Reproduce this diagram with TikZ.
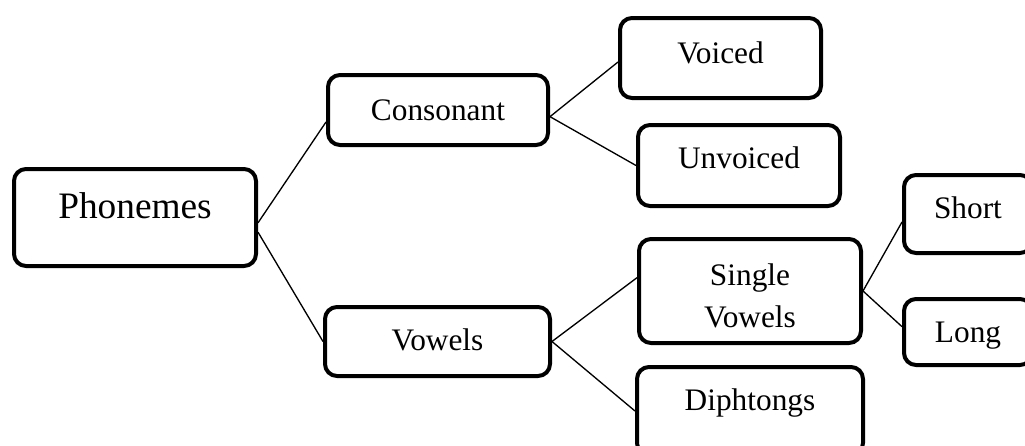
\documentclass[tikz,border=0pt]{standalone}
\usepackage{fontspec}
\setmainfont{Liberation Serif}

\begin{document}
\begin{tikzpicture}[x=0.75pt, y=-0.75pt,
  box/.style={draw, line width=3pt, rounded corners=9pt, inner sep=0pt, anchor=north west,
    align=center, font=\fontsize{23.5}{31.5}\selectfont},
  link/.style={line width=1pt}]
\def\u{0.75pt}
\useasboundingbox (0,0) rectangle (1025,446);

\node[box, minimum width=242*\u, text height=49*\u, text depth=48*\u, font=\fontsize{28}{34}\selectfont] (ph) at (12,167) {Phonemes};

\node[box, minimum width=220*\u, text height=45*\u, text depth=25*\u] (con) at (326,73) {Consonant};
\node[box, minimum width=225*\u, text height=43*\u, text depth=26*\u] (vow) at (323,305) {Vowels};

\node[box, minimum width=201*\u, text height=45*\u, text depth=35*\u] (voi) at (618,16) {Voiced};
\node[box, minimum width=202*\u, text height=43*\u, text depth=38*\u] (unv) at (636,123) {Unvoiced};
\node[box, minimum width=222*\u, text height=88*\u, text depth=16*\u] (sv) at (637,237) {Single\\Vowels};
\node[box, minimum width=226*\u, text height=43*\u, text depth=45*\u] (dip) at (635,365) {Diphtongs};

\node[box, minimum width=128*\u, text height=43*\u, text depth=35*\u] (sh) at (902,173) {Short};
\node[box, minimum width=128*\u, text height=43*\u, text depth=23*\u] (lon) at (902,297) {Long};

\draw[link] ([yshift=-4pt]ph.east) -- ([yshift=-9pt]con.west);
\draw[link] ([yshift=-11pt]ph.east) -- (vow.west);

\draw[link] ([yshift=-5pt]con.east) -- ([yshift=-3pt]voi.west);
\draw[link] ([yshift=-5pt]con.east) -- (unv.west);

\draw[link] (vow.east) -- ([yshift=10pt]sv.west);
\draw[link] (vow.east) -- (dip.west);

\draw[link] (sv.east) -- ([yshift=-6pt]sh.west);
\draw[link] (sv.east) -- ([yshift=4pt]lon.west);
\end{tikzpicture}
\end{document}
